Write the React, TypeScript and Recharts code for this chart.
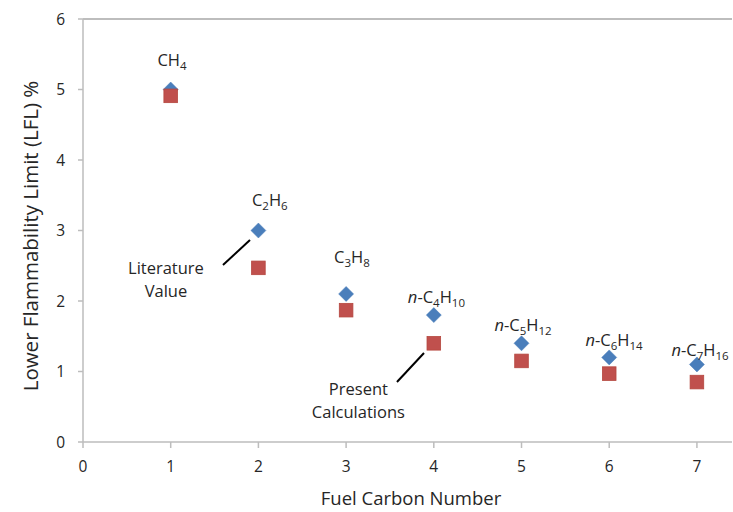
import React from 'react';
import { ScatterChart, Scatter, XAxis, YAxis, ReferenceLine } from 'recharts';

// Data
const carbonNumbers = [1, 2, 3, 4, 5, 6, 7];
const literatureValues = [5.0, 3.0, 2.1, 1.8, 1.4, 1.2, 1.1];
const presentValues = [4.91, 2.47, 1.87, 1.4, 1.15, 0.97, 0.85];
const fuelNames = ['CH4', 'C2H6', 'C3H8', 'n-C4H10', 'n-C5H12', 'n-C6H14', 'n-C7H16'];
const xTicks = [0, 1, 2, 3, 4, 5, 6, 7];
const yTicks = [0, 1, 2, 3, 4, 5, 6];

// label anchors (data units)
const fuelLabelX = [1.015, 2.13, 3.067, 4.03, 5.017, 6.055, 7.035];
const fuelLabelY = [5.42, 3.43, 2.62, 2.06, 1.66, 1.45, 1.305];
const noteTexts = [['Literature', 'Value'], ['Present', 'Calculations']];
const noteX = [0.946, 3.14];
const noteY = [2.31, 0.6];
const leaderLines = [
  [{ x: 1.596, y: 2.51 }, { x: 1.904, y: 2.865 }],
  [{ x: 3.58, y: 0.851 }, { x: 3.888, y: 1.262 }],
];

const literatureData = carbonNumbers.map((x, i) => ({ x, y: literatureValues[i] }));
const presentData = carbonNumbers.map((x, i) => ({ x, y: presentValues[i] }));
const fuelLabelData = fuelNames.map((name, i) => ({ x: fuelLabelX[i], y: fuelLabelY[i], name }));
const noteData = noteTexts.map((lines, i) => ({ x: noteX[i], y: noteY[i], lines }));

const FONT = '"Open Sans", sans-serif';
const TEXT = '#262626';
const AXIS = '#bdbdbd';

const Diamond = (props: any) => {
  const { cx, cy } = props;
  const r = 7.5;
  return (
    <polygon
      points={`${cx},${cy - r} ${cx + r},${cy} ${cx},${cy + r} ${cx - r},${cy}`}
      fill="#4a7ebb"
      stroke="#4a7ebb"
      strokeWidth={0.5}
    />
  );
};

const Square = (props: any) => {
  const { cx, cy } = props;
  const h = 6.8;
  return <rect x={cx - h} y={cy - h} width={2 * h} height={2 * h} fill="#c0504d" stroke="#b5473f" strokeWidth={0.8} />;
};

const renderFormula = (name: string) => {
  const parts: React.ReactNode[] = [];
  let i = 0;
  let sub = false;
  let key = 0;
  if (name.startsWith('n-')) {
    parts.push(
      <tspan key={key++} fontStyle="italic">n</tspan>
    );
    parts.push(<tspan key={key++}>-</tspan>);
    i = 2;
  }
  while (i < name.length) {
    let j = i;
    const isDigit = /[0-9]/.test(name[i]);
    while (j < name.length && /[0-9]/.test(name[j]) === isDigit) j++;
    const chunk = name.slice(i, j);
    if (isDigit) {
      parts.push(
        <tspan key={key++} fontSize={11.5} dy={sub ? 0 : 4}>{chunk}</tspan>
      );
      sub = true;
    } else {
      parts.push(
        <tspan key={key++} dy={sub ? -4 : 0}>{chunk}</tspan>
      );
      sub = false;
    }
    i = j;
  }
  return parts;
};

const FuelLabel = (props: any) => {
  const { cx, cy, payload } = props;
  return (
    <text x={cx} y={cy + 6} textAnchor="middle" fontFamily={FONT} fontSize={16.5} fill={TEXT}>
      {renderFormula(payload.name)}
    </text>
  );
};

const NoteLabel = (props: any) => {
  const { cx, cy, payload } = props;
  return (
    <text x={cx} y={cy} textAnchor="middle" fontFamily={FONT} fontSize={16.5} fill={TEXT}>
      {payload.lines.map((l: string, k: number) => (
        <tspan key={k} x={cx} dy={k === 0 ? -5 : 23}>{l}</tspan>
      ))}
    </text>
  );
};

export default function App() {
  return (
    <div style={{ position: 'absolute', left: 0, top: 0, background: '#fff' }}>
      <ScatterChart width={733} height={512} margin={{ top: 19, right: 1, left: 0, bottom: 0 }}>
        <XAxis
          type="number"
          dataKey="x"
          domain={[0, 7.4]}
          ticks={xTicks}
          allowDataOverflow
          height={70}
          stroke={AXIS}
          strokeWidth={1.5}
          tickSize={6}
          tickMargin={13}
          tick={{ fill: TEXT, fontSize: 15.5, fontFamily: FONT }}
          label={(p: any) => {
            const vb = p.viewBox;
            return (
              <text x={411} y={vb.y + 63} textAnchor="middle" fontFamily={FONT} fontSize={18.5} fill={TEXT}>
                Fuel Carbon Number
              </text>
            );
          }}
        />
        <YAxis
          type="number"
          dataKey="y"
          domain={[0, 6]}
          ticks={yTicks}
          allowDataOverflow
          width={83}
          stroke={AXIS}
          strokeWidth={1.5}
          tickSize={5}
          tickMargin={13}
          tick={{ fill: TEXT, fontSize: 15.5, fontFamily: FONT }}
          label={() => (
            <text
              x={38}
              y={236}
              transform="rotate(-90 38 236)"
              textAnchor="middle"
              fontFamily={FONT}
              fontSize={20.5}
              fill={TEXT}
            >
              Lower Flammability Limit (LFL) %
            </text>
          )}
        />
        <ReferenceLine y={6} stroke={AXIS} strokeWidth={2} />
        {leaderLines.map((seg, k) => (
          <ReferenceLine key={k} segment={seg} stroke="#000" strokeWidth={2} />
        ))}
        <Scatter data={literatureData} shape={Diamond} isAnimationActive={false} />
        <Scatter data={presentData} shape={Square} isAnimationActive={false} />
        <Scatter data={fuelLabelData} shape={FuelLabel} isAnimationActive={false} />
        <Scatter data={noteData} shape={NoteLabel} isAnimationActive={false} />
      </ScatterChart>
    </div>
  );
}
